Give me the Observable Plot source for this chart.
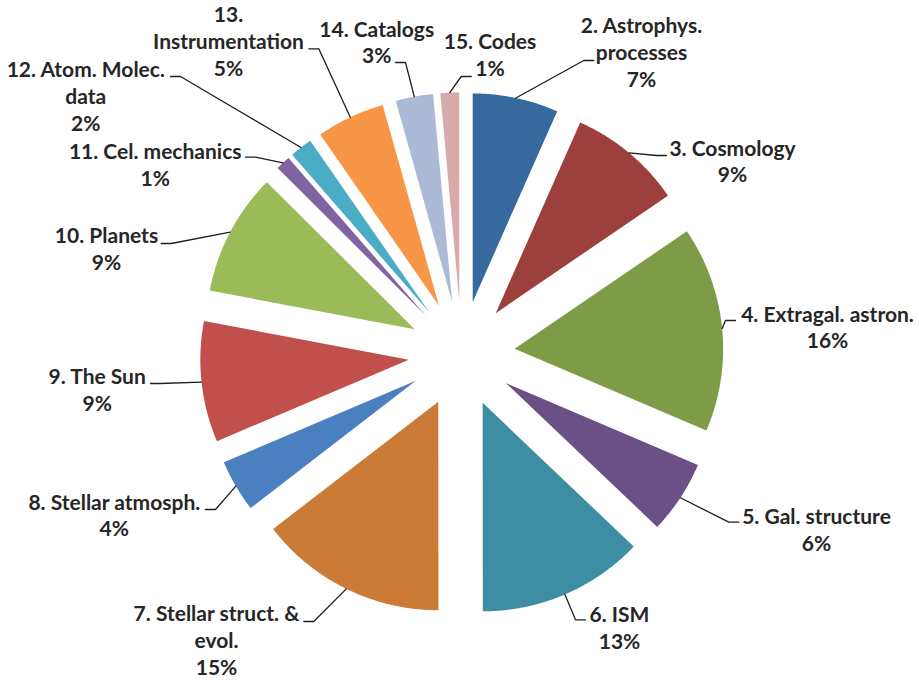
<!DOCTYPE html>
<html>
<head>
<meta charset="utf-8">
<script src="https://cdn.jsdelivr.net/npm/d3@7"></script>
<script src="https://cdn.jsdelivr.net/npm/@observablehq/plot@0.6"></script>
<style>
  html, body { margin: 0; padding: 0; background: #fff; }
</style>
</head>
<body>
<div id="chart"></div>
<script>
// Subject categories (line breaks as set in the labels)
const categories = [
  "2. Astrophys.\nprocesses",
  "3. Cosmology",
  "4. Extragal. astron.",
  "5. Gal. structure",
  "6. ISM",
  "7. Stellar struct. &\nevol.",
  "8. Stellar atmosph.",
  "9. The Sun",
  "10. Planets",
  "11. Cel. mechanics",
  "12. Atom. Molec.\ndata",
  "13.\nInstrumentation",
  "14. Catalogs",
  "15. Codes"
];

// Share of papers per category, in percent
const shares = [6.64, 8.83, 15.94, 5.69, 12.89, 14.56, 4.06, 9.36, 9.49, 1.14, 1.75, 5.30, 2.90, 1.45];

const colors = [
  "#366a9f", "#9d3f3d", "#7e9c48", "#6a5085", "#3d8ea3", "#cc7b36", "#4a80bf",
  "#c1504d", "#9bbb59", "#8064a2", "#4bacc6", "#f79646", "#aabad7", "#d8aaa9"
];

// ---- layout ----
const W = 919, H = 680;
const cx = 461.2, cy = 353.5, R = 208.5;  // pie centre and radius (px)
const explode = 0.255;                      // slice offset, fraction of radius
const fontSize = 21, lineGap = 26.7;

// label anchor: centre x and baseline of last line, px offset from pie centre
const labelPos = [
  [179.8, -267.5], [270.8, -171.8], [365.8, -5.8], [354.8, 196.5], [157.8, 294.8],
  [-245.2, 320.8], [-347.4, 182.2], [-364.5, 56.5], [-355.2, -84.2], [-306.5, -168.5],
  [-375.9, -223.5], [-233.2, -278.5], [-85, -290.8], [28.3, -278.5]
];
// where each leader line meets its label, px offset from pie centre
const leaderEnd = [
  [132.1, -293.5], [204.8, -198.5], [273.8, -33.5], [277.1, 168.2], [123.8, 265.8],
  [-157.9, 267.5], [-256.2, 155.5], [-311.2, 29.5], [-300.5, -110.5], [-216.2, -196.8],
  [-291.2, -277.5], [-152.9, -305.2], [-66.2, -291.5], [9.5, -277.5]
];

const pct = d3.format(".0%");
const arcs = d3.pie().sort(null).value(d => d)(shares);

// slice outlines in pie units (radius 1, y up), each pushed out along its bisector
const slicePts = arcs.flatMap((a, i) => {
  const m = (a.startAngle + a.endAngle) / 2;
  const ox = explode * Math.sin(m), oy = explode * Math.cos(m);
  const n = Math.max(2, Math.ceil((a.endAngle - a.startAngle) / (Math.PI / 360)));
  const pts = [{key: categories[i], x: ox, y: oy}];
  for (let k = 0; k <= n; ++k) {
    const t = a.startAngle + (a.endAngle - a.startAngle) * k / n;
    pts.push({key: categories[i], x: ox + Math.sin(t), y: oy + Math.cos(t)});
  }
  return pts;
});

// leader lines: from the middle of each slice's rim to its label
const leaderPts = arcs.flatMap((a, i) => {
  const m = (a.startAngle + a.endAngle) / 2;
  const sx = (1 + explode) * Math.sin(m), sy = (1 + explode) * Math.cos(m);
  const ex = leaderEnd[i][0] / R, ey = -leaderEnd[i][1] / R;
  const bx = ex + Math.sign(sx - ex) * 10 / R;
  return [
    {key: categories[i], x: sx, y: sy},
    {key: categories[i], x: bx, y: ey},
    {key: categories[i], x: ex, y: ey}
  ];
});

const labels = categories.map((c, i) => ({
  text: c + "\n" + pct(shares[i] / 100),
  x: labelPos[i][0] / R,
  y: -labelPos[i][1] / R
}));

const chart = Plot.plot({
  width: W,
  height: H,
  margin: 0,
  style: {background: "#fff", overflow: "visible"},
  x: {domain: [-cx / R, (W - cx) / R], range: [0, W], axis: null},
  y: {domain: [-(H - cy) / R, cy / R], range: [H, 0], axis: null},
  color: {domain: categories, range: colors},
  marks: [
    Plot.line(slicePts, {x: "x", y: "y", z: "key", fill: "key", stroke: "none", curve: "linear-closed"}),
    Plot.line(leaderPts, {x: "x", y: "y", z: "key", stroke: "#1e1e1e", strokeWidth: 1.3}),
    Plot.text(labels, {
      x: "x", y: "y", text: "text",
      textAnchor: "middle", lineAnchor: "bottom",
      lineHeight: lineGap / fontSize,
      fontSize, fontWeight: "bold",
      fontFamily: "Lato, 'Open Sans', sans-serif",
      fill: "#262626"
    })
  ]
});

document.getElementById("chart").append(chart);
</script>
</body>
</html>
